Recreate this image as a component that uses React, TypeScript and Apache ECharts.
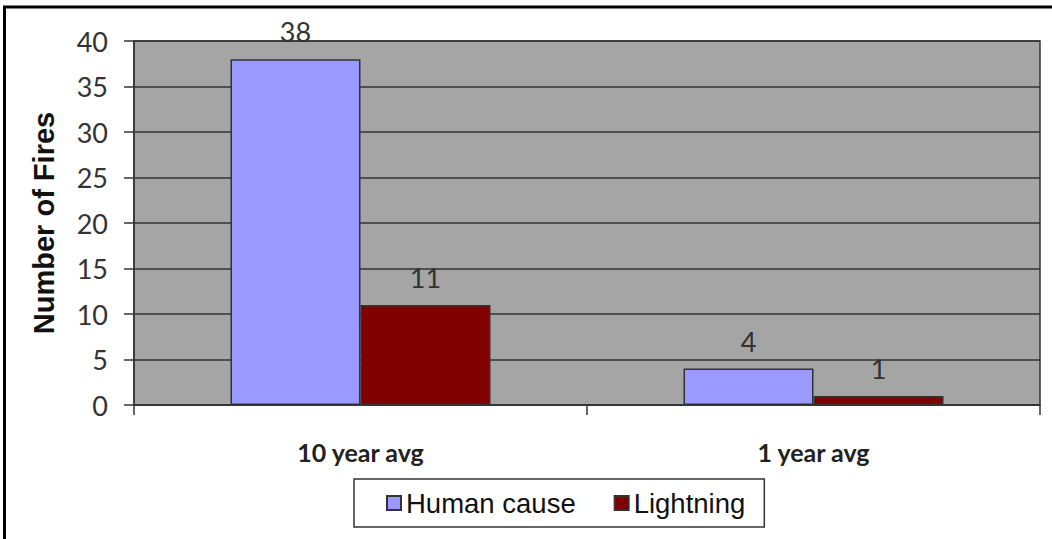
import React, { useEffect, useRef } from "react";
import * as echarts from "echarts";

const categories = ["10 year avg", "1 year avg"];
const humanCause = [38, 4];
const lightning = [11, 1];
const seriesNames = ["Human cause", "Lightning"];
const yTicks = { min: 0, max: 40, interval: 5 };

export default function App() {
  const ref = useRef<HTMLDivElement>(null);
  useEffect(() => {
    if (!ref.current) return;
    const chart = echarts.init(ref.current, undefined, { renderer: "svg" });
    const labelStyle = {
      show: true,
      position: "top" as const,
      distance: 14,
      fontFamily: "Lato",
      fontSize: 27,
      color: "#333",
    };
    chart.setOption({
      animation: false,
      backgroundColor: "#fff",
      grid: {
        left: 134,
        top: 41,
        right: 12,
        bottom: 134,
        show: true,
        backgroundColor: "#A5A5A5",
        borderColor: "#333",
        borderWidth: 1.5,
      },
      graphic: [
        {
          type: "polyline",
          shape: { points: [[4.5, 560], [4.5, 7], [1060, 7]] },
          style: { stroke: "#000", lineWidth: 3, fill: "none" },
          z: 100,
        },
      ],
      legend: {
        data: seriesNames,
        left: 354,
        top: 479,
        orient: "horizontal",
        padding: [10, 19, 10, 32],
        itemGap: 38,
        itemWidth: 14,
        itemHeight: 14,
        borderColor: "#333",
        borderWidth: 1.5,
        backgroundColor: "#fff",
        icon: "rect",
        textStyle: {
          fontFamily: "Liberation Sans",
          fontSize: 27.5,
          lineHeight: 26,
          color: "#111",
        },
      },
      xAxis: {
        type: "category",
        data: categories,
        axisLine: { show: true, lineStyle: { color: "#333", width: 1.5 } },
        axisTick: { show: true, length: 10, lineStyle: { color: "#333", width: 1.5 } },
        axisLabel: {
          margin: 34,
          fontFamily: "Lato",
          fontWeight: "bold",
          fontSize: 25,
          color: "#222",
        },
      },
      yAxis: {
        type: "value",
        min: yTicks.min,
        max: yTicks.max,
        interval: yTicks.interval,
        name: "Number of Fires",
        nameLocation: "middle",
        nameRotate: 90,
        nameGap: 76,
        nameTextStyle: {
          fontFamily: "Liberation Sans",
          fontWeight: "bold",
          fontSize: 29,
          color: "#111",
        },
        axisLine: { show: true, lineStyle: { color: "#333", width: 1.5 } },
        axisTick: { show: true, inside: false, length: 10, lineStyle: { color: "#333", width: 1.5 } },
        axisLabel: {
          margin: 26,
          fontFamily: "Lato",
          fontSize: 27,
          color: "#333",
        },
        splitLine: { show: true, lineStyle: { color: "#333", width: 1.5 } },
      },
      series: [
        {
          name: seriesNames[0],
          type: "bar",
          data: humanCause,
          barGap: "0%",
          barCategoryGap: "42.6%",
          itemStyle: { color: "#9999FF", borderColor: "#333", borderWidth: 1.5 },
          label: labelStyle,
        },
        {
          name: seriesNames[1],
          type: "bar",
          data: lightning,
          barGap: "0%",
          barCategoryGap: "42.6%",
          itemStyle: { color: "#800000", borderColor: "#333", borderWidth: 1.5 },
          label: labelStyle,
        },
      ],
    });
    return () => chart.dispose();
  }, []);
  return (
    <div
      ref={ref}
      style={{ position: "absolute", left: 0, top: 0, width: 1052, height: 539 }}
    />
  );
}
